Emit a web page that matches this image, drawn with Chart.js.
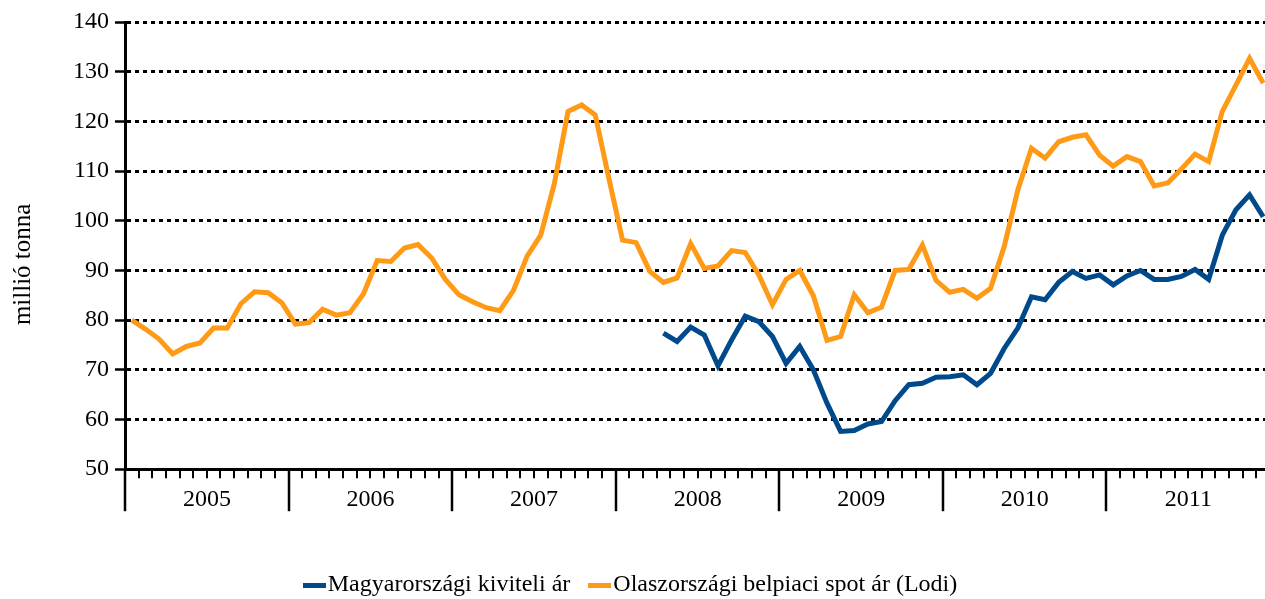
<!DOCTYPE html>
<html lang="hu">
<head>
    <meta charset="UTF-8">
    <meta name="viewport" content="width=device-width, initial-scale=1.0">
    <title>Árak</title>
    <style type="text/css">
        html, body {
            margin: 0;
            padding: 0;
            overflow: hidden;
            background: #fff;
        }
        .chartBox {
            width: 1272px;
            height: 599px;
        }
    </style>
</head>
<body>
    <div class="chartBox">
        <canvas id="myChart"></canvas>
    </div>

    <script src="https://cdn.jsdelivr.net/npm/chart.js"></script>

    <script>
    // setup block
    const evek = ['2005', '2006', '2007', '2008', '2009', '2010', '2011'];
    const honapok = [];
    evek.forEach(ev => {
        for (let m = 1; m <= 12; m++) honapok.push(ev + '.' + String(m).padStart(2, '0'));
    });

    // Olaszországi belpiaci spot ár (Lodi), 2005.01 - 2011.12
    const olasz = [
        80.0, 78.2, 76.2, 73.2, 74.7, 75.4, 78.4, 78.4, 83.3, 85.7, 85.5, 83.5,
        79.2, 79.5, 82.2, 81.0, 81.5, 85.3, 92.0, 91.8, 94.5, 95.2, 92.5, 88.2,
        85.1, 83.7, 82.5, 81.9, 86.0, 92.9, 97.1, 107.5, 122.0, 123.3, 121.3, 108.5,
        96.1, 95.6, 89.8, 87.6, 88.5, 95.4, 90.4, 90.9, 94.0, 93.6, 89.1, 83.1,
        88.2, 90.0, 84.9, 75.9, 76.7, 85.1, 81.5, 82.6, 90.0, 90.2, 95.1, 88.0,
        85.6, 86.2, 84.4, 86.4, 94.8, 106.2, 114.6, 112.6, 115.9, 116.8, 117.3, 113.2,
        111.0, 112.9, 111.9, 107.0, 107.6, 110.4, 113.4, 111.9, 122.0, 127.3, 132.7, 127.7
    ];

    // Magyarországi kiviteli ár, csak 2008.04-től
    const magyar = [
        null, null, null, null, null, null, null, null, null, null, null, null,
        null, null, null, null, null, null, null, null, null, null, null, null,
        null, null, null, null, null, null, null, null, null, null, null, null,
        null, null, null, 77.4, 75.7, 78.6, 77.0, 70.8, 76.0, 80.8, 79.7, 76.7,
        71.3, 74.7, 70.0, 63.3, 57.6, 57.8, 59.1, 59.6, 63.8, 67.0, 67.3, 68.5,
        68.6, 69.0, 67.0, 69.3, 74.3, 78.4, 84.7, 84.1, 87.6, 89.8, 88.4, 89.1,
        87.1, 88.9, 90.0, 88.2, 88.2, 88.8, 90.2, 88.2, 97.1, 102.2, 105.2, 100.8
    ];

    const kek = '#004a8c';
    const narancs = '#ff9a16';
    const betu = { family: '"Liberation Serif", "Times New Roman", serif', size: 24 };

    // rövid vastag vonal a jelmagyarázathoz
    function jelolo(szin) {
        const c = document.createElement('canvas');
        c.width = 23;
        c.height = 5;
        const g = c.getContext('2d');
        g.fillStyle = szin;
        g.fillRect(0, 0, 23, 5);
        return c;
    }

    // hosszú évhatár-vonalak az x tengely alatt
    const evElvalaszto = {
        id: 'evElvalaszto',
        afterDraw(chart) {
            const x = chart.scales.x;
            const ctx = chart.ctx;
            const fel = (x.getPixelForValue(1) - x.getPixelForValue(0)) / 2;
            ctx.save();
            ctx.strokeStyle = '#000';
            ctx.lineWidth = 2.5;
            for (let i = 0; i <= honapok.length; i += 12) {
                const px = Math.round(x.getPixelForValue(i) - fel);
                ctx.beginPath();
                ctx.moveTo(px, x.top);
                ctx.lineTo(px, x.top + 42);
                ctx.stroke();
            }
            ctx.restore();
        }
    };

    const data = {
        labels: honapok,
        datasets: [{
            label: 'Magyarországi kiviteli ár',
            data: magyar,
            borderColor: kek,
            backgroundColor: kek,
            borderWidth: 5,
            pointRadius: 0,
            pointStyle: jelolo(kek),
            tension: 0
        }, {
            label: 'Olaszországi belpiaci spot ár (Lodi)',
            data: olasz,
            borderColor: narancs,
            backgroundColor: narancs,
            borderWidth: 5,
            pointRadius: 0,
            pointStyle: jelolo(narancs),
            tension: 0
        }]
    };

    // config block
    const config = {
        type: 'line',
        data,
        options: {
            responsive: true,
            maintainAspectRatio: false,
            animation: false,
            layout: {
                padding: { top: 22, right: 2, bottom: -8, left: 0 }
            },
            plugins: {
                legend: {
                    position: 'bottom',
                    labels: {
                        usePointStyle: true,
                        pointStyleWidth: 3,
                        boxHeight: 24,
                        padding: 28,
                        color: '#000',
                        font: betu
                    }
                },
                tooltip: { enabled: false }
            },
            scales: {
                x: {
                    offset: true,
                    afterFit: scale => { scale.height += 24; },
                    grid: {
                        offset: true,
                        drawOnChartArea: false,
                        drawTicks: true,
                        tickLength: 9,
                        color: '#000',
                        lineWidth: 2
                    },
                    border: { display: true, color: '#000', width: 3 },
                    ticks: {
                        autoSkip: false,
                        maxRotation: 0,
                        minRotation: 0,
                        labelOffset: 7,
                        padding: 7,
                        color: '#000',
                        font: betu,
                        callback: (v, i) => i % 12 === 5 ? honapok[i].slice(0, 4) : ''
                    }
                },
                y: {
                    min: 50,
                    max: 140,
                    afterFit: scale => { scale.width = 125; },
                    ticks: {
                        stepSize: 10,
                        padding: 6,
                        color: '#000',
                        font: betu
                    },
                    grid: {
                        color: '#000',
                        lineWidth: 3,
                        tickLength: 10,
                        tickWidth: 2.5,
                        tickBorderDash: []
                    },
                    border: { display: true, color: '#000', width: 3, dash: [4, 4] },
                    title: {
                        display: true,
                        // a nem törő szóközök kicsit lejjebb tolják a feliratot
                        text: 'millió tonna\u00a0\u00a0\u00a0\u00a0\u00a0\u00a0',
                        color: '#000',
                        font: { family: betu.family, size: 25 },
                        padding: { top: 8, bottom: 0 }
                    }
                }
            }
        },
        plugins: [evElvalaszto]
    };

    // render init block
    const myChart = new Chart(
        document.getElementById('myChart'),
        config
    );
    </script>
</body>
</html>
